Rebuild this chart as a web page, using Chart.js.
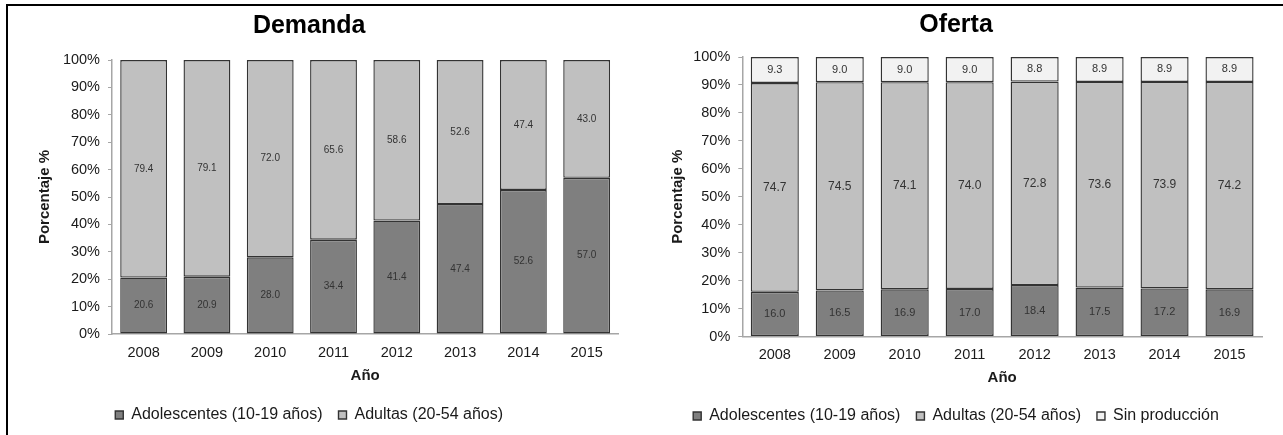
<!DOCTYPE html>
<html>
<head>
<meta charset="utf-8">
<script src="https://cdn.jsdelivr.net/npm/chart.js@4/dist/chart.umd.min.js"></script>
<style>
  html, body { margin:0; padding:0; background:#fff; }
  body { width:1283px; height:435px; position:relative; overflow:hidden; }
  #frame { position:absolute; left:6px; top:4px; width:1300px; height:440px; border-left:2px solid #000; border-top:2px solid #000; box-sizing:border-box; }
  #wrapL { position:absolute; left:0; top:0; width:650px; height:435px; }
  #wrapR { position:absolute; left:650px; top:0; width:633px; height:435px; }
</style>
</head>
<body>
<div id="frame"></div>
<div id="wrapL"><canvas id="cL" width="650" height="435"></canvas></div>
<div id="wrapR"><canvas id="cR" width="633" height="435"></canvas></div>
<script>
// ---- data ----
const years = ['2008','2009','2010','2011','2012','2013','2014','2015'];
const yTicks = [0,10,20,30,40,50,60,70,80,90,100];
const demandaAdolescentes = [20.6, 20.9, 28.0, 34.4, 41.4, 47.4, 52.6, 57.0];
const demandaAdultas      = [79.4, 79.1, 72.0, 65.6, 58.6, 52.6, 47.4, 43.0];
const ofertaAdolescentes  = [16.0, 16.5, 16.9, 17.0, 18.4, 17.5, 17.2, 16.9];
const ofertaAdultas       = [74.7, 74.5, 74.1, 74.0, 72.8, 73.6, 73.9, 74.2];
const ofertaSinProduccion = [9.3, 9.0, 9.0, 9.0, 8.8, 8.9, 8.9, 8.9];
const labelAdol = 'Adolescentes (10-19 años)';
const labelAdul = 'Adultas (20-54 años)';
const labelSin  = 'Sin producción';

const FONT = '"Liberation Sans", Arial, sans-serif';
Chart.defaults.font.family = FONT;
Chart.defaults.color = '#1a1a1a';
Chart.defaults.animation = false;

const valueLabels = {
  id: 'valueLabels',
  afterDatasetsDraw(chart) {
    const ctx = chart.ctx;
    ctx.save();
    ctx.textAlign = 'center';
    ctx.textBaseline = 'middle';
    chart.data.datasets.forEach((ds, i) => {
      const meta = chart.getDatasetMeta(i);
      ctx.font = (ds.labelSize || 10) + 'px ' + FONT;
      ctx.fillStyle = '#333';
      meta.data.forEach((el, j) => {
        const p = el.getCenterPoint();
        ctx.fillText(ds.data[j].toFixed(1), p.x, p.y);
      });
    });
    ctx.restore();
  }
};

function makeChart(id, cfg) {
  const datasets = cfg.series.map(s => ({
    label: s.label, data: s.data, backgroundColor: s.color,
    borderColor: '#333333', borderWidth: 1.4, borderSkipped: false,
    barPercentage: 0.74, categoryPercentage: 1.0, labelSize: s.labelSize
  }));
  return new Chart(document.getElementById(id), {
    type: 'bar',
    data: { labels: years, datasets },
    plugins: [valueLabels],
    options: {
      responsive: false,
      layout: { padding: { left: 0, right: cfg.padRight, top: 0, bottom: cfg.padBottom } },
      plugins: {
        title: { display: true, text: cfg.title, color: '#000',
          font: { size: 25, weight: 'bold', family: FONT },
          padding: { top: cfg.titleTop, bottom: cfg.titleBottom } },
        legend: { position: 'bottom',
          labels: { boxWidth: 8, boxHeight: 8, padding: 16, color: '#1a1a1a',
            font: { size: 16, family: FONT } } },
        tooltip: { enabled: false }
      },
      scales: {
        x: {
          stacked: true,
          grid: { display: true, drawOnChartArea: false, drawTicks: false },
          border: { display: true, color: '#a6a6a6', width: 1.5 },
          ticks: { padding: 10, color: '#1a1a1a', font: { size: 14.5, family: FONT } },
          title: { display: true, text: 'Año', color: '#1a1a1a',
            font: { size: 15, weight: 'bold', family: FONT },
            padding: { top: 0, bottom: cfg.xTitleBottom } },
          afterFit(s) { s.height = cfg.xHeight; }
        },
        y: {
          stacked: true, min: 0, max: 100,
          afterBuildTicks(s) { s.ticks = yTicks.map(v => ({ value: v })); },
          grid: { display: true, drawOnChartArea: false, drawTicks: true, tickLength: 4, color: '#a6a6a6' },
          border: { display: true, color: '#a6a6a6', width: 1.5 },
          ticks: { padding: 8, color: '#1a1a1a', font: { size: 14.5, family: FONT },
            callback: v => v + '%' },
          title: { display: true, text: 'Porcentaje %', color: '#1a1a1a',
            font: { size: 15, weight: 'bold', family: FONT },
            padding: { top: cfg.yTitleTop, bottom: 0 } },
          afterFit(s) { s.width = cfg.yWidth; }
        }
      }
    }
  });
}

makeChart('cL', {
  title: 'Demanda', padRight: 31.7, padBottom: 2, titleTop: 11, titleBottom: 19,
  xHeight: 57, xTitleBottom: 6, yWidth: 112, yTitleTop: 36,
  series: [
    { label: labelAdol, data: demandaAdolescentes, color: '#7f7f7f', labelSize: 10 },
    { label: labelAdul, data: demandaAdultas, color: '#c0c0c0', labelSize: 10 }
  ]
});
makeChart('cR', {
  title: 'Oferta', padRight: 21, padBottom: 1, titleTop: 10, titleBottom: 17,
  xHeight: 55.5, xTitleBottom: 5, yWidth: 92.3, yTitleTop: 19,
  series: [
    { label: labelAdol, data: ofertaAdolescentes, color: '#7f7f7f', labelSize: 11 },
    { label: labelAdul, data: ofertaAdultas, color: '#c0c0c0', labelSize: 12 },
    { label: labelSin, data: ofertaSinProduccion, color: '#f2f2f2', labelSize: 11 }
  ]
});
</script>
</body>
</html>
